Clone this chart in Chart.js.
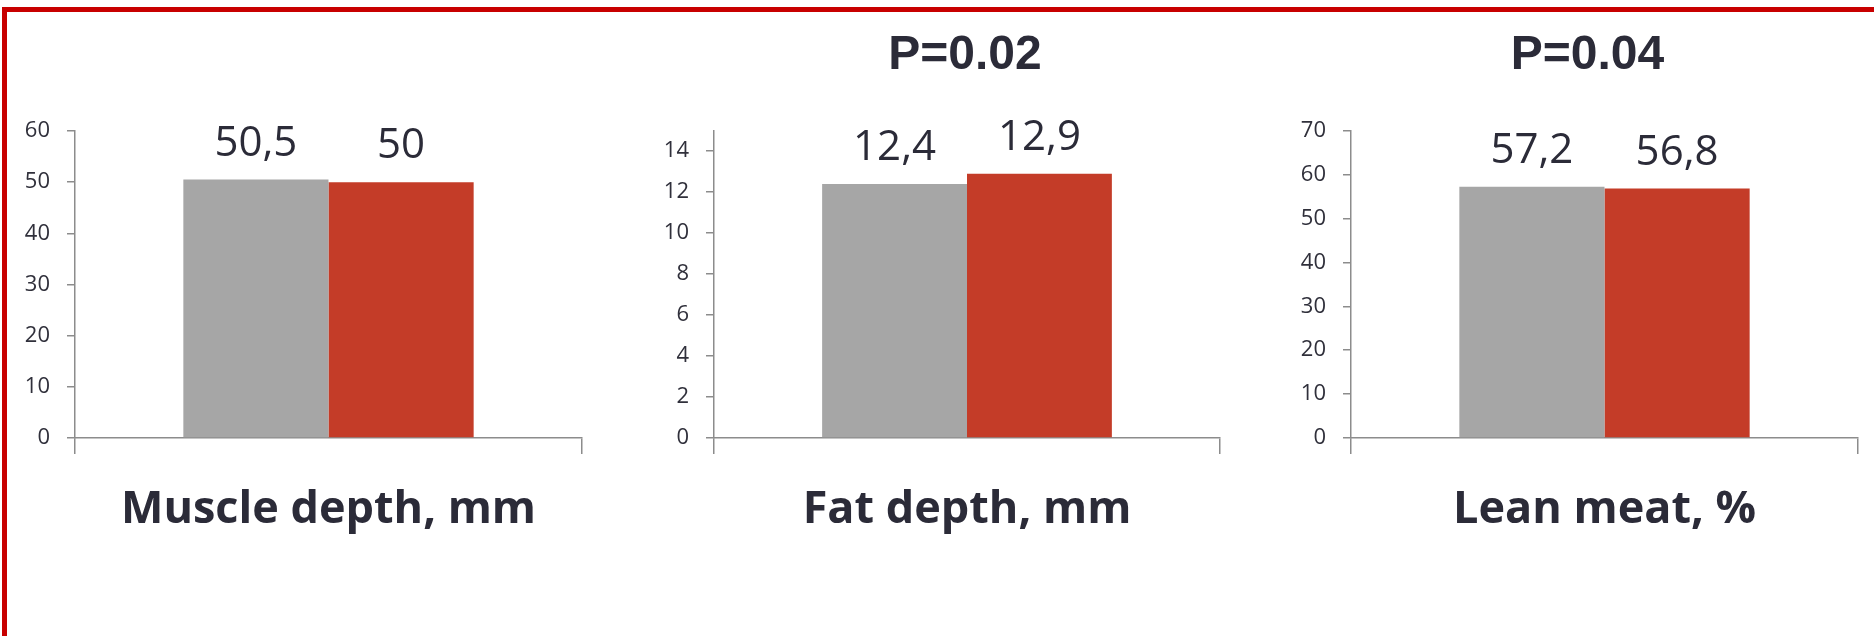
<!DOCTYPE html>
<html>
<head>
<meta charset="utf-8">
<script src="https://cdn.jsdelivr.net/npm/chart.js@4"></script>
<style>
  body { margin: 0; width: 1874px; height: 636px; overflow: hidden; background: #fff; }
  #frame {
    position: absolute; left: 2px; top: 7px; width: 1900px; height: 700px;
    border-left: 5px solid #c80000; border-top: 5px solid #c80000;
  }
  .box { position: absolute; top: 0; height: 636px; }
</style>
</head>
<body>
<div id="frame"></div>
<div class="box" style="left:5px;width:579px"><canvas id="muscle"></canvas></div>
<div class="box" style="left:644px;width:578px"><canvas id="fat"></canvas></div>
<div class="box" style="left:1281px;width:579px"><canvas id="lean"></canvas></div>
<script>
// values (grey = group 1, red = group 2)
const groupNames = ['Group 1', 'Group 2'];
const muscleDepth = [50.5, 50];
const fatDepth = [12.4, 12.9];
const leanMeat = [57.2, 56.8];

const axisTitles = ['Muscle depth, mm', 'Fat depth, mm', 'Lean meat, %'];
const pValues = ['', 'P=0.02', 'P=0.04'];
const muscleTicks = [0, 10, 20, 30, 40, 50, 60];
const fatTicks = [0, 2, 4, 6, 8, 10, 12, 14];
const leanTicks = [0, 10, 20, 30, 40, 50, 60, 70];
const yMax = [60, 15, 70];

const textColor = '#2b2b38';
const axisColor = '#8c8c8c';
const barColors = ['#a6a6a6', '#c43c28'];
const titleShift = [0, -2, -17]; // the P text is not quite centred in the original

// writes the value above each bar, decimal comma like the original
const valueLabels = {
    id: 'valueLabels',
    afterLayout(chart) {
        const dx = chart.options.plugins.valueLabels.titleShift || 0;
        if (chart.titleBlock) {
            chart.titleBlock.left += dx;
            chart.titleBlock.right += dx;
        }
    },
    afterDatasetsDraw(chart) {
        const ctx = chart.ctx;
        ctx.save();
        ctx.font = '42px "Open Sans"';
        ctx.fillStyle = textColor;
        ctx.textAlign = 'center';
        ctx.textBaseline = 'alphabetic';
        chart.data.datasets.forEach((ds, i) => {
            chart.getDatasetMeta(i).data.forEach((bar, j) => {
                const txt = String(ds.data[j]).replace('.', ',');
                ctx.fillText(txt, bar.x, bar.y - 24);
            });
        });
        ctx.restore();
    }
};

function makeChart(id, values, tickList, idx) {
    const hasP = pValues[idx] !== '';
    return new Chart(document.getElementById(id), {
        type: 'bar',
        data: {
            labels: [''],
            datasets: groupNames.map((name, i) => ({
                label: name,
                data: [values[i]],
                backgroundColor: barColors[i],
                categoryPercentage: 0.5726,
                barPercentage: 1
            }))
        },
        options: {
            responsive: true,
            maintainAspectRatio: false,
            animation: false,
            layout: { padding: { top: hasP ? 0 : 131, right: 2, bottom: 99, left: 0 } },
            plugins: {
                legend: { display: false },
                tooltip: { enabled: false },
                valueLabels: { titleShift: titleShift[idx] },
                title: {
                    display: hasP,
                    text: pValues[idx],
                    fullSize: false,
                    color: textColor,
                    font: { family: '"Liberation Sans", Arial', size: 48, weight: 'bold', lineHeight: 1.2 },
                    padding: { top: 27, bottom: 46 }
                }
            },
            scales: {
                x: {
                    offset: true,
                    grid: { offset: true, drawOnChartArea: false, drawTicks: true, tickLength: 16, color: axisColor, lineWidth: 1.5 },
                    border: { color: axisColor, width: 1.5 },
                    ticks: { display: false },
                    title: {
                        display: true,
                        text: axisTitles[idx],
                        color: textColor,
                        font: { family: '"Open Sans"', size: 45, weight: 'bold', lineHeight: 1.2 },
                        padding: { top: 29, bottom: 0 }
                    }
                },
                y: {
                    min: 0,
                    max: yMax[idx],
                    afterBuildTicks: s => { s.ticks = tickList.map(v => ({ value: v })); },
                    afterFit: s => { s.width = 70; },
                    grid: { drawOnChartArea: false, drawTicks: true, tickLength: 8, color: axisColor, lineWidth: 1.5 },
                    border: { color: axisColor, width: 1.5 },
                    ticks: {
                        padding: 17,
                        color: '#30303b',
                        font: { family: '"Open Sans"', size: 22 }
                    }
                }
            }
        },
        plugins: [valueLabels]
    });
}

makeChart('muscle', muscleDepth, muscleTicks, 0);
makeChart('fat', fatDepth, fatTicks, 1);
makeChart('lean', leanMeat, leanTicks, 2);
</script>
</body>
</html>
